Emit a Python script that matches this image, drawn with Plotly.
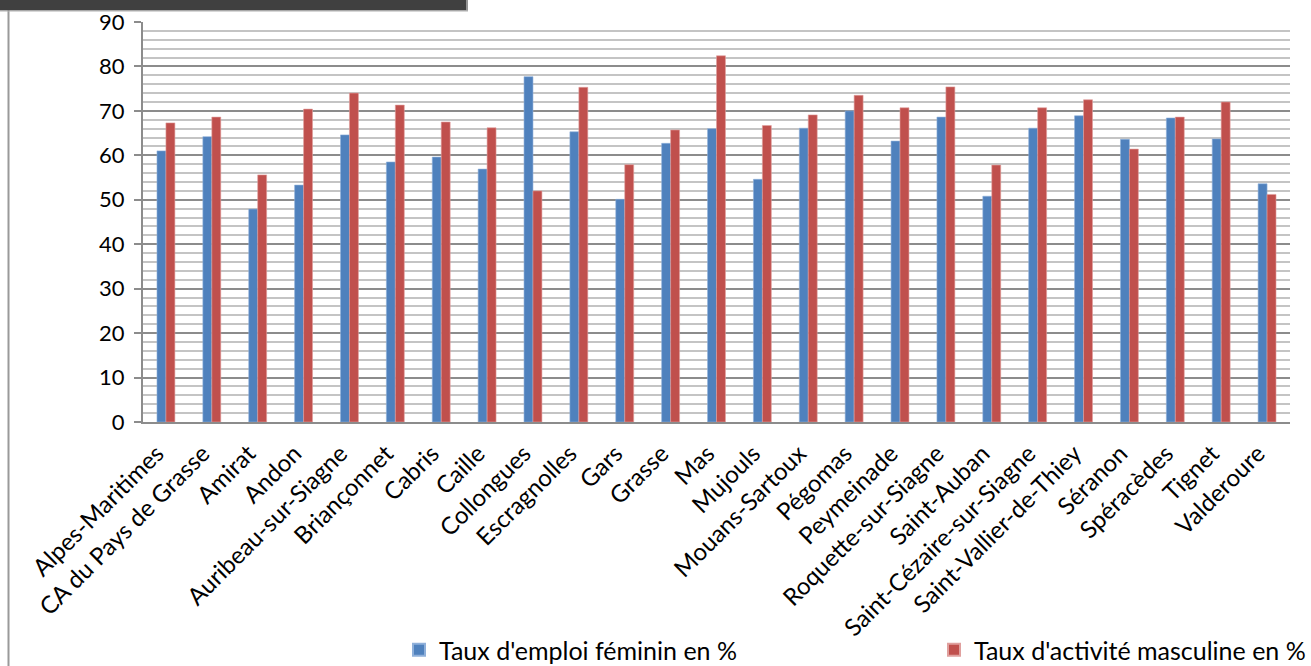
import plotly.graph_objects as go

categories = ["Alpes-Maritimes", "CA du Pays de Grasse", "Amirat", "Andon", "Auribeau-sur-Siagne",
              "Briançonnet", "Cabris", "Caille", "Collongues", "Escragnolles", "Gars", "Grasse",
              "Mas", "Mujouls", "Mouans-Sartoux", "Pégomas", "Peymeinade", "Roquette-sur-Siagne",
              "Saint-Auban", "Saint-Cézaire-sur-Siagne", "Saint-Vallier-de-Thiey", "Séranon",
              "Spéracèdes", "Tignet", "Valderoure"]
emploi_feminin = [61.0, 64.2, 47.9, 53.3, 64.6, 58.5, 59.6, 56.9, 77.7, 65.3, 50.1, 62.7,
                  66.0, 54.6, 66.1, 70.0, 63.2, 68.6, 50.8, 66.1, 68.9, 63.6, 68.4, 63.7, 53.6]
activite_masculine = [67.3, 68.6, 55.6, 70.4, 74.0, 71.3, 67.5, 66.2, 52.0, 75.3, 57.9, 65.7,
                      82.4, 66.7, 69.1, 73.5, 70.7, 75.4, 57.8, 70.7, 72.5, 61.4, 68.6, 72.0, 51.2]
series_names = ["Taux d'emploi féminin en %", "Taux d'activité masculine en %"]
y_ticks = [0, 10, 20, 30, 40, 50, 60, 70, 80, 90]

W, H = 1311, 666
ML, MR, MT, MB = 143, 21, 22, 244
PW, PH = W - ML - MR, H - MT - MB


def px(x):
    return (x - ML) / PW


def py(y):
    return (H - MB - y) / PH


FONT = "Lato, 'Open Sans', sans-serif"

fig = go.Figure()
fig.add_trace(go.Bar(x=categories, y=emploi_feminin, name=series_names[0],
                     marker=dict(color="#4F81BD", line=dict(color="#8fb0da", width=0.6))))
fig.add_trace(go.Bar(x=categories, y=activite_masculine, name=series_names[1],
                     marker=dict(color="#C0504D", line=dict(color="#e0a09e", width=0.6))))

fig.update_layout(
    width=W, height=H,
    margin=dict(l=ML, r=MR, t=MT, b=MB, autoexpand=False),
    paper_bgcolor="white", plot_bgcolor="white",
    barmode="group", bargap=0.61, bargroupgap=0,
    font=dict(family=FONT, size=22, color="black"),
    showlegend=True,
    legend=dict(orientation="h", x=px(399), xanchor="left", y=py(650), yanchor="middle",
                entrywidth=490, entrywidthmode="pixels",
                font=dict(family=FONT, size=25, color="black"),
                itemsizing="constant", bgcolor="rgba(0,0,0,0)"),
    xaxis=dict(tickangle=-45, showgrid=False, showline=True, linecolor="#8c8c8c", linewidth=2,
               ticks="", tickfont=dict(family=FONT, size=24), automargin=False,
               ticklabelshift=-9, ticklabelstandoff=6),
    yaxis=dict(range=[0, 90], tickvals=y_ticks, showline=True, linecolor="#8c8c8c", linewidth=2,
               ticks="outside", ticklen=7, tickcolor="#8c8c8c", tickwidth=2,
               showgrid=True, gridcolor="#8c8c8c", gridwidth=2,
               minor=dict(dtick=2, showgrid=True, gridcolor="#c4c4c4", gridwidth=2, ticks=""),
               zeroline=False, tickfont=dict(family=FONT, size=22), ticklabelstandoff=5,
               automargin=False),
    shapes=[
        dict(type="line", xref="paper", yref="paper", x0=px(8.5), x1=px(8.5), y0=py(666), y1=py(0),
             line=dict(color="#9a9a9a", width=2), layer="above"),
        dict(type="rect", xref="paper", yref="paper", x0=px(0), x1=px(468), y0=py(10.5), y1=py(0),
             fillcolor="#404040", line=dict(width=0), layer="above"),
        dict(type="line", xref="paper", yref="paper", x0=px(0), x1=px(468), y0=py(11), y1=py(11),
             line=dict(color="#b0b0b0", width=1), layer="above"),
        dict(type="line", xref="paper", yref="paper", x0=px(467), x1=px(467), y0=py(11), y1=py(0),
             line=dict(color="#b0b0b0", width=1.5), layer="above"),
    ],
)

fig.write_html("out.html", config={"displayModeBar": False},
               post_script="document.body.style.margin='0';")
